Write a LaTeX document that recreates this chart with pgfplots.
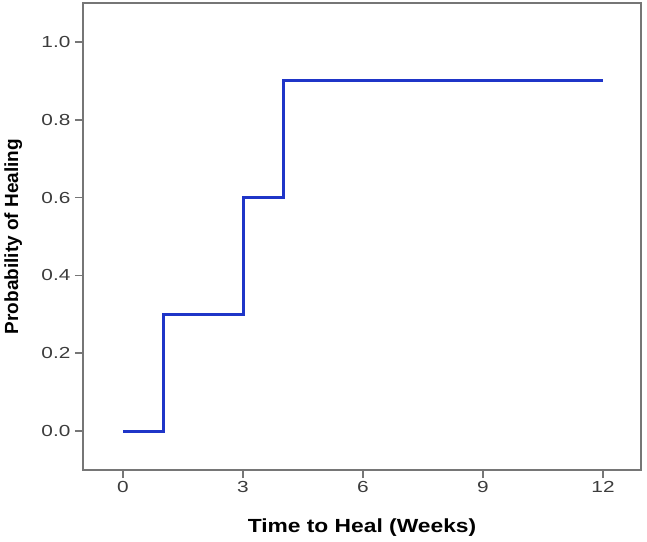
\documentclass[border=0pt]{standalone}
\usepackage{fontspec}
\setmainfont{Liberation Sans}
\usepackage{pgfplots}
\pgfplotsset{compat=1.18}
\usetikzlibrary{calc}
\definecolor{stepblue}{HTML}{1F35C8}
\definecolor{axgrey}{HTML}{767676}
\definecolor{lblgrey}{HTML}{3C3C3C}

\begin{document}
\begin{tikzpicture}
  \begin{axis}[
    name=ax,
    scale only axis,
    width=558pt, height=467pt,
    xmin=-1, xmax=12.95,
    ymin=-0.1, ymax=1.1,
    xtick={0,3,6,9,12},
    ytick={0,0.2,0.4,0.6,0.8,1.0},
    tick pos=left,
    tick align=outside,
    major tick length=8pt,
    axis line style={axgrey, line width=1.6pt},
    tick style={axgrey, line width=1.6pt},
    ticklabel style={font=\fontsize{16}{19}\selectfont, text=lblgrey, xscale=1.3},
    /pgf/number format/assume math mode=true,
    yticklabel style={/pgf/number format/fixed, /pgf/number format/fixed zerofill, /pgf/number format/precision=1},
    xlabel={Time to Heal (Weeks)},
    ylabel={Probability of Healing},
    label style={font=\bfseries\fontsize{19}{22}\selectfont},
    xlabel style={at={(axis description cs:0.5,-0.124)}, anchor=center, xscale=1.2},
    ylabel style={at={(axis description cs:-0.125,0.5)}, anchor=center, rotate=0},
  ]
    % step curve
    \addplot[const plot, stepblue, line width=3pt] coordinates {
      (0,0) (1,0.3) (3,0.6) (4,0.9) (12,0.9)
    };
  \end{axis}
  \path[use as bounding box] ($(ax.south west)+(-83pt,-71pt)$) rectangle ($(ax.north east)+(6pt,3pt)$);
\end{tikzpicture}
\end{document}
